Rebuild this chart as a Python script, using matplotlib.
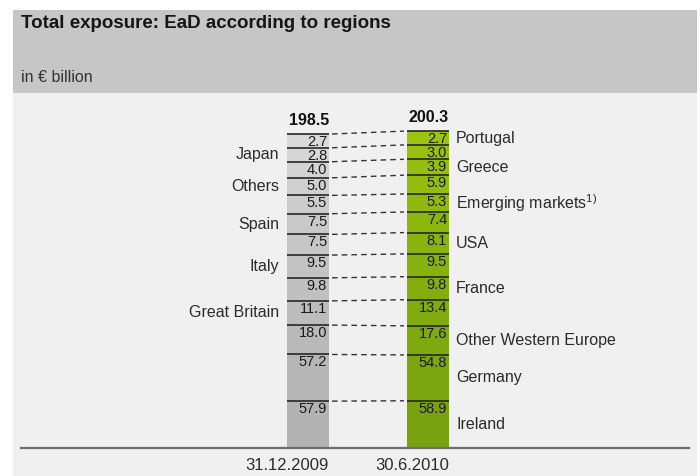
import numpy as np
import matplotlib
matplotlib.use("Agg")
import matplotlib.pyplot as plt
from matplotlib.patches import Rectangle
from matplotlib.colors import to_rgb

plt.rcParams["font.family"] = ["Liberation Sans", "DejaVu Sans"]
plt.rcParams["mathtext.fontset"] = "custom"
plt.rcParams["mathtext.rm"] = "Liberation Sans"

# ---- data (top of the stack first) ----
regions = ["Portugal", "Japan", "Greece", "Others", "Emerging markets$^{1)}$",
           "Spain", "USA", "Italy", "France", "Great Britain",
           "Other Western Europe", "Germany", "Ireland"]
ead_2009 = [2.7, 2.8, 4.0, 5.0, 5.5, 7.5, 7.5, 9.5, 9.8, 11.1, 18.0, 57.2, 57.9]
ead_2010 = [2.7, 3.0, 3.9, 5.9, 5.3, 7.4, 8.1, 9.5, 9.8, 13.4, 17.6, 54.8, 58.9]
totals = [198.5, 200.3]
dates = ["31.12.2009", "30.6.2010"]
# which side of the chart each region name is written on
label_side = ["right", "left", "right", "left", "right", "left", "right",
              "left", "right", "left", "right", "right", "right"]

W, H = 700, 476
fig = plt.figure(figsize=(W / 100, H / 100), dpi=100, facecolor="white")


def fx(px):
    return px / W


def fy(py):
    return 1 - py / H


# page background and header band
fig.patches.append(Rectangle((fx(13), fy(476)), fx(697) - fx(13), fy(93) - fy(476),
                             transform=fig.transFigure, facecolor="#f0f0f0",
                             edgecolor="none", zorder=-5))
fig.patches.append(Rectangle((fx(13), fy(93)), fx(697) - fx(13), fy(10) - fy(93),
                             transform=fig.transFigure, facecolor="#c6c6c6",
                             edgecolor="none", zorder=-5))
fig.text(fx(21), fy(23), "Total exposure: EaD according to regions",
         fontsize=13.5, fontweight="bold", color="#161616", va="center", ha="left")
fig.text(fx(21), fy(78), "in € billion", fontsize=11.5, color="#333333",
         va="center", ha="left")

# compressed display height for each segment (power scale)
POWER = 0.4
h09 = np.array(ead_2009) ** POWER
h10 = np.array(ead_2010) ** POWER

base_px, top_px = 448, 100
px_per_unit = (448 - 134) / h09.sum()

ax = fig.add_axes([fx(13), fy(base_px), fx(697) - fx(13), (base_px - top_px) / H])
ax.set_axis_off()
ax.set_zorder(2)
bar_x = [0.0, 1.0]
unit_px = 120.0
ax.set_xlim(-(308 - 13) / unit_px, 1 + (697 - 428) / unit_px)
ax.set_ylim(0, (base_px - top_px) / px_per_unit)
bar_w = 42 / unit_px


def shades(top, bottom, n):
    a, b = np.array(to_rgb(top)), np.array(to_rgb(bottom))
    return [tuple(a + (b - a) * t) for t in np.linspace(0, 1, n)]


n = len(regions)
colors09 = shades("#d9d9d9", "#b3b3b3", n)
colors10 = shades("#9cc40c", "#78a30f", n)

tops = {}
for x, vals, hts, cols, total in [(bar_x[0], ead_2009, h09, colors09, totals[0]),
                                   (bar_x[1], ead_2010, h10, colors10, totals[1])]:
    # stack from the bottom: last region sits on the baseline
    bottoms = np.concatenate([np.cumsum(hts[::-1])[::-1][1:], [0.0]])
    seg_tops = bottoms + hts
    tops[x] = seg_tops
    ax.bar([x] * n, hts, bottom=bottoms, width=bar_w, color=cols,
           edgecolor="none", align="center", zorder=2)
    right = x + bar_w / 2
    for v, b, t in zip(vals, bottoms, seg_tops):
        ax.plot([x - bar_w / 2, right], [t, t], color="#262626", lw=1.2,
                solid_capstyle="butt", zorder=3)
        ax.text(right - 2 / unit_px, t - 1 / px_per_unit, f"{v:.1f}",
                ha="right", va="top", fontsize=10.5, color="#1a1a1a", zorder=4)
    ax.text(right, seg_tops[0] + 6 / px_per_unit, f"{total:.1f}", ha="right",
            va="bottom", fontsize=11.5, fontweight="bold", color="#111111")

# dashed connectors between matching segment tops
x0 = bar_x[0] + bar_w / 2 + 3 / unit_px
x1 = bar_x[1] - bar_w / 2 - 3 / unit_px
for ta, tb in zip(tops[bar_x[0]], tops[bar_x[1]]):
    ax.plot([x0, x1], [ta, tb], color="#333333", lw=1.0,
            linestyle=(0, (4, 3)), zorder=1)

# region names beside the bars
for i, name in enumerate(regions):
    if label_side[i] == "left":
        t, hgt = tops[bar_x[0]][i], h09[i]
        ax.text(bar_x[0] - bar_w / 2 - 8 / unit_px, t - hgt / 2, name,
                ha="right", va="center", fontsize=11.5, color="#2b2b2b")
    else:
        t, hgt = tops[bar_x[1]][i], h10[i]
        ax.text(bar_x[1] + bar_w / 2 + 7 / unit_px, t - hgt / 2, name,
                ha="left", va="center", fontsize=11.5, color="#2b2b2b")

# baseline and date labels
ax.plot([(21 - 308) / unit_px, 1 + (689 - 428) / unit_px], [0, 0],
        color="#6e6e6e", lw=1.6, zorder=5, clip_on=False)
for x, d in zip(bar_x, dates):
    ax.text(x + bar_w / 2, -17 / px_per_unit, d, ha="right", va="center",
            fontsize=12, color="#2b2b2b")

fig.savefig("out.png", dpi=100, facecolor=fig.get_facecolor())
